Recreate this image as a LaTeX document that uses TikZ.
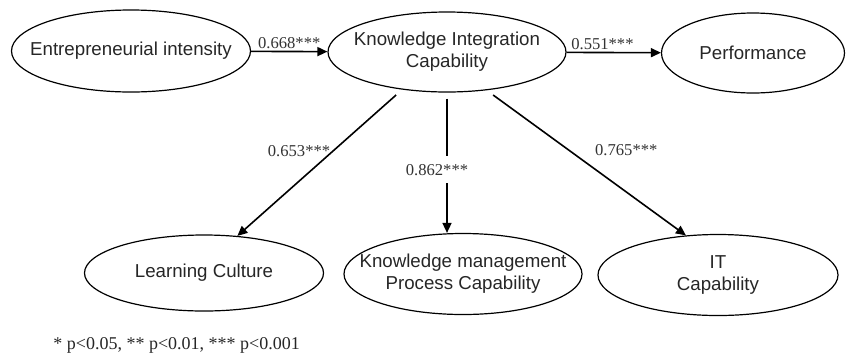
\documentclass[tikz,border=0pt]{standalone}
\usepackage{fontspec}
\setmainfont{Liberation Serif}
\setsansfont{Liberation Sans}
\usetikzlibrary{positioning, arrows.meta, shapes.geometric}

\begin{document}
\begin{tikzpicture}[x=0.5pt,y=-0.5pt,>={Triangle[length=5pt,width=4.5pt]},
  var/.style={draw,ellipse,semithick,inner xsep=-12pt,inner ysep=0pt,
    font=\sffamily\fontsize{9.35}{11}\selectfont,align=center,text=black!85},
  coef/.style={font=\fontsize{8.3}{10}\selectfont,text=black!80,inner sep=1pt}]
  \useasboundingbox (0,0) rectangle (846,360);
  % constructs
  \node[var,minimum width=119.5pt,minimum height=41pt] (ent) at (131,51)
       {Entrepreneurial intensity};
  \node[var,minimum width=119pt,minimum height=40pt] (kic) at (447,52)
       {Knowledge Integration\\Capability};
  \node[var,minimum width=91.5pt,minimum height=40pt] (perf) at (753,53)
       {Performance};
  \node[var,minimum width=119.5pt,minimum height=38pt] (lc) at (204,273)
       {Learning Culture};
  \node[var,minimum width=119pt,minimum height=40.5pt] (kmpc) at (463,274)
       {Knowledge management\\Process Capability};
  \node[var,minimum width=120pt,minimum height=40.5pt] (it) at (718,275)
       {IT\\Capability};
  % paths
  \draw[->,thick](ent)--node[coef,above]{0.668***}(kic);
  \draw[->,thick](kic)--node[coef,pos=0.38,above]{0.551***}(perf);
  \draw[->,thick,shorten <=4pt](kic.220)
       --node[coef,pos=0.42,left]{0.653***}(lc.48);
  \draw[->,thick,shorten <=3pt](kic.south)
       --node[coef,pos=0.55,fill=white,xshift=-5pt,inner sep=4pt]{0.862***}
       (kic.south |- kmpc.north);
  \draw[->,thick,shorten <=4pt](kic.-44)
       --node[coef,pos=0.41,anchor=west,xshift=12pt]{0.765***}(it.129.5);
  \node[anchor=west,font=\fontsize{9}{11}\selectfont,text=black!85,inner sep=0pt]
       (note) at (53,345) {* p<0.05, ** p<0.01, *** p<0.001};
\end{tikzpicture}
\end{document}
